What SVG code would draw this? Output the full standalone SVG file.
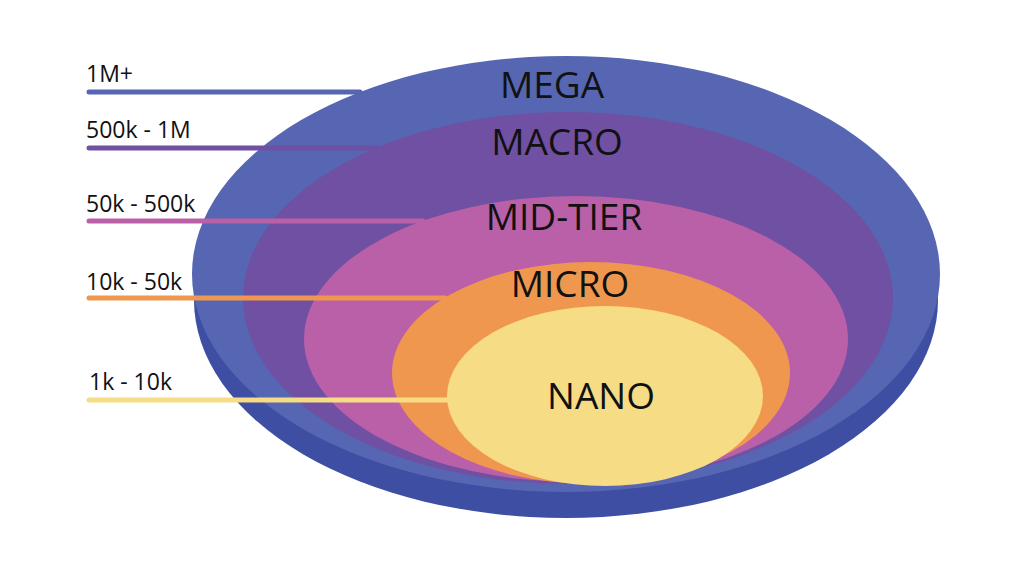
<svg xmlns="http://www.w3.org/2000/svg" width="1024" height="576" viewBox="0 0 1024 576">
<style>
.lbl{font-family:"Open Sans","Noto Sans",sans-serif;font-size:23px;fill:#111}
.ttl{font-family:"Open Sans","Noto Sans",sans-serif;font-size:37px;fill:#111;text-anchor:middle}
.ln{stroke-width:5;stroke-linecap:round;fill:none}
</style>
<rect width="1024" height="576" fill="#fff"/>
<g id="mega">
<ellipse cx="566" cy="300" rx="372" ry="218" fill="#3d4ea3"/>
<ellipse cx="566" cy="274" rx="374" ry="218" fill="#5666b2"/>
<text class="ttl" x="552" y="98">MEGA</text>
</g>
<g id="macro">
<ellipse cx="568" cy="298" rx="325" ry="186" fill="#7050a2"/>
<text class="ttl" x="557" y="155">MACRO</text>
</g>
<g id="midtier">
<ellipse cx="576" cy="339" rx="272" ry="143" fill="#b960a8"/>
<text class="ttl" x="564" y="230">MID-TIER</text>
</g>
<g id="micro">
<ellipse cx="591" cy="373" rx="199" ry="111" fill="#f0974f"/>
<text class="ttl" x="570" y="297">MICRO</text>
</g>
<g id="nano">
<ellipse cx="605" cy="396" rx="158" ry="90" fill="#f7dc86"/>
<text class="ttl" x="601" y="409">NANO</text>
</g>
<g id="connectors">
<line class="ln" x1="89" y1="92" x2="360" y2="92" stroke="#5666b2"/>
<line class="ln" x1="89" y1="148" x2="377" y2="148" stroke="#7050a2"/>
<line class="ln" x1="89" y1="221" x2="423" y2="221" stroke="#b960a8"/>
<line class="ln" x1="89" y1="298" x2="445" y2="298" stroke="#f0974f"/>
<line class="ln" x1="89" y1="400" x2="448" y2="400" stroke="#f7dc86"/>
</g>
<g id="labels">
<text class="lbl" x="86" y="82">1M+</text>
<text class="lbl" x="86" y="138">500k - 1M</text>
<text class="lbl" x="86" y="212">50k - 500k</text>
<text class="lbl" x="86" y="290">10k - 50k</text>
<text class="lbl" x="89" y="390">1k - 10k</text>
</g>
</svg>
